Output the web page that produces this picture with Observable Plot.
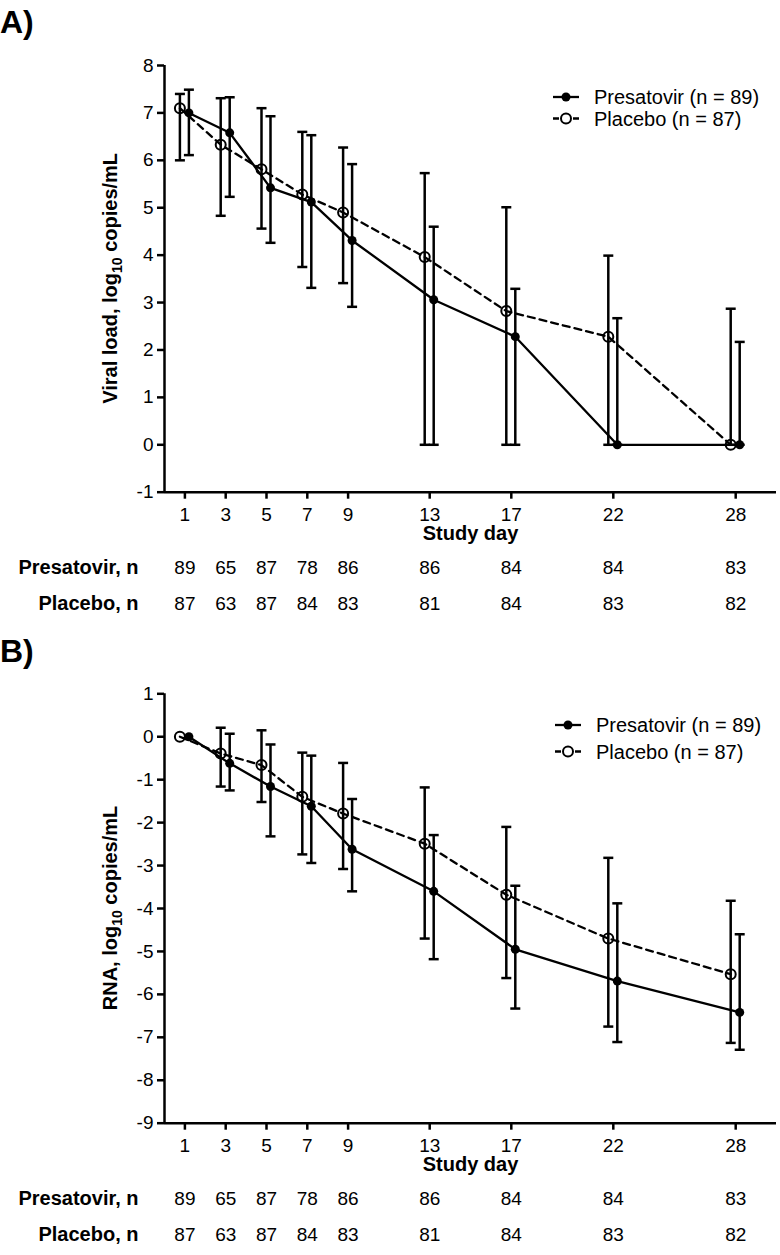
<!DOCTYPE html>
<html>
<head>
<meta charset="utf-8">
<script src="https://cdn.jsdelivr.net/npm/d3@7"></script>
<script src="https://cdn.jsdelivr.net/npm/@observablehq/plot@0.6"></script>
<style>
  html, body { margin: 0; padding: 0; background: white; }
  svg { display: block; }
</style>
</head>
<body>
<script>
// ---------- data ----------
const days = [1, 3, 5, 7, 9, 13, 17, 22, 28];
const nPresatovir = [89, 65, 87, 78, 86, 86, 84, 84, 83];
const nPlacebo = [87, 63, 87, 84, 83, 81, 84, 83, 82];

// Panel A: viral load, log10 copies/mL
const aPresMean = [7.00, 6.58, 5.42, 5.12, 4.31, 3.06, 2.28, 0, 0];
const aPresHi   = [7.49, 7.33, 6.93, 6.53, 5.92, 4.60, 3.29, 2.67, 2.17];
const aPresLo   = [6.11, 5.23, 4.26, 3.31, 2.91, 0, 0, 0, 0];
const aPlacMean = [7.10, 6.33, 5.81, 5.28, 4.90, 3.96, 2.82, 2.28, 0];
const aPlacHi   = [7.40, 7.31, 7.10, 6.60, 6.27, 5.73, 5.01, 3.99, 2.87];
const aPlacLo   = [6.00, 4.83, 4.56, 3.75, 3.41, 0, 0, 0, 0];
const aYTicks = [-1, 0, 1, 2, 3, 4, 5, 6, 7, 8];

// Panel B: RNA change, log10 copies/mL
const bPresMean = [0, -0.62, -1.16, -1.62, -2.62, -3.60, -4.95, -5.69, -6.42];
const bPresHi   = [null, 0.07, -0.18, -0.44, -1.45, -2.29, -3.47, -3.88, -4.60];
const bPresLo   = [null, -1.25, -2.32, -2.94, -3.60, -5.18, -6.33, -7.11, -7.29];
const bPlacMean = [0, -0.39, -0.66, -1.40, -1.79, -2.49, -3.68, -4.70, -5.53];
const bPlacHi   = [null, 0.21, 0.15, -0.37, -0.61, -1.18, -2.10, -2.82, -3.82];
const bPlacLo   = [null, -1.16, -1.52, -2.74, -3.08, -4.70, -5.62, -6.75, -7.13];
const bYTicks = [1, 0, -1, -2, -3, -4, -5, -6, -7, -8, -9];

const seriesNames = ["Presatovir (n = 89)", "Placebo (n = 87)"];
const rowLabels = ["Presatovir, n", "Placebo, n"];
const xLabel = "Study day";

const FONT = "'Liberation Sans', Arial, Helvetica, sans-serif";

// horizontal cap symbol for error bars
const capSymbol = {
  draw(context, size) {
    const w = Math.sqrt(size / Math.PI);
    context.moveTo(-w, 0);
    context.lineTo(w, 0);
  }
};

function rows(mean, lo, hi) {
  return days.map((d, i) => ({day: d, mean: mean[i], lo: lo[i], hi: hi[i]}));
}

function panel(cfg) {
  const pres = rows(cfg.presMean, cfg.presLo, cfg.presHi);
  const plac = rows(cfg.placMean, cfg.placLo, cfg.placHi);
  const presE = pres.filter(d => d.lo != null);
  const placE = plac.filter(d => d.lo != null);
  const dxPres = 4, dxPlac = -5;
  const tableP = days.map((d, i) => ({day: d, n: nPresatovir[i]}));
  const tableQ = days.map((d, i) => ({day: d, n: nPlacebo[i]}));

  const svg = Plot.plot({
    width: 780,
    height: cfg.height,
    marginLeft: 164,
    marginRight: 4,
    marginTop: cfg.marginTop,
    marginBottom: cfg.marginBottom,
    style: {fontFamily: FONT, background: "white", color: "black", overflow: "visible"},
    x: {domain: [0, 30]},
    y: {domain: cfg.yDomain},
    marks: [
      Plot.axisY({ticks: cfg.yTicks, tickSize: 7, tickPadding: 4, strokeWidth: 2.5,
        tickFormat: d => String(d), label: null, fontSize: 19}),
      Plot.axisX({ticks: days, tickSize: 7, tickPadding: 8, strokeWidth: 2.5,
        tickFormat: d => String(d), label: null, fontSize: 19}),
      Plot.ruleX([0], {strokeWidth: 2.5}),
      Plot.ruleY([cfg.yDomain[0]], {strokeWidth: 2.5}),
      // error bars
      Plot.ruleX(placE, {x: "day", y1: "lo", y2: "hi", dx: dxPlac, strokeWidth: 2.5}),
      Plot.ruleX(presE, {x: "day", y1: "lo", y2: "hi", dx: dxPres, strokeWidth: 2.5}),
      Plot.dot(placE, {x: "day", y: "lo", dx: dxPlac, symbol: capSymbol, r: 5, stroke: "black", strokeWidth: 2.5, fill: "none"}),
      Plot.dot(placE, {x: "day", y: "hi", dx: dxPlac, symbol: capSymbol, r: 5, stroke: "black", strokeWidth: 2.5, fill: "none"}),
      Plot.dot(presE, {x: "day", y: "lo", dx: dxPres, symbol: capSymbol, r: 5, stroke: "black", strokeWidth: 2.5, fill: "none"}),
      Plot.dot(presE, {x: "day", y: "hi", dx: dxPres, symbol: capSymbol, r: 5, stroke: "black", strokeWidth: 2.5, fill: "none"}),
      // lines
      Plot.line(plac, {x: "day", y: "mean", dx: dxPlac, stroke: "black", strokeWidth: 2.3, strokeDasharray: "7,5"}),
      Plot.line(pres, {x: "day", y: "mean", dx: dxPres, stroke: "black", strokeWidth: 2.3}),
      // markers
      Plot.dot(plac, {x: "day", y: "mean", dx: dxPlac, r: 5, stroke: "black", strokeWidth: 2, fill: "none"}),
      Plot.dot(pres, {x: "day", y: "mean", dx: dxPres, r: 4.5, fill: "black", stroke: "none"}),
      // x label and n table
      Plot.text([xLabel], {text: d => d, frameAnchor: "bottom", dy: 48, fontWeight: "bold", fontSize: 20}),
      Plot.text(tableP, {x: "day", text: "n", frameAnchor: "bottom", dy: 82, fontSize: 19}),
      Plot.text(tableQ, {x: "day", text: "n", frameAnchor: "bottom", dy: 118, fontSize: 19}),
      Plot.text([rowLabels[0]], {text: d => d, frameAnchor: "bottom-left", dx: -26, dy: 82, textAnchor: "end", fontWeight: "bold", fontSize: 20}),
      Plot.text([rowLabels[1]], {text: d => d, frameAnchor: "bottom-left", dx: -26, dy: 118, textAnchor: "end", fontWeight: "bold", fontSize: 20})
    ]
  });

  const s = d3.select(svg);
  // panel letter
  s.append("text").attr("x", 0).attr("y", cfg.letterY).attr("text-anchor", "start")
    .attr("font-size", 32).attr("font-weight", "bold").attr("fill", "black")
    .text(cfg.letter);

  // y-axis title with subscript
  const yr = svg.scale("y").range;
  const cy = (yr[0] + yr[1]) / 2;
  const t = s.append("text")
    .attr("transform", `translate(117,${cy}) rotate(-90)`)
    .attr("text-anchor", "middle").attr("font-size", 20).attr("font-weight", "bold").attr("fill", "black");
  t.append("tspan").text(cfg.yTitle[0]);
  t.append("tspan").attr("font-size", 14).attr("dy", 5).text("10");
  t.append("tspan").attr("dy", -5).text(cfg.yTitle[1]);

  // legend
  const L = cfg.legend;
  const g = s.append("g").attr("fill", "black").attr("text-anchor", "start");
  const mid = (L.x0 + L.x1) / 2;
  g.append("line").attr("x1", L.x0).attr("x2", L.x1).attr("y1", L.y1).attr("y2", L.y1)
    .attr("stroke", "black").attr("stroke-width", 2.3);
  g.append("circle").attr("cx", mid).attr("cy", L.y1).attr("r", 4.5).attr("fill", "black");
  g.append("text").attr("x", L.tx).attr("y", L.y1).attr("dy", "0.35em").attr("font-size", 20).text(seriesNames[0]);
  g.append("line").attr("x1", L.x0).attr("x2", L.x1).attr("y1", L.y2).attr("y2", L.y2)
    .attr("stroke", "black").attr("stroke-width", 2.3).attr("stroke-dasharray", "6,4");
  g.append("circle").attr("cx", mid).attr("cy", L.y2).attr("r", 5).attr("fill", "white")
    .attr("stroke", "black").attr("stroke-width", 2);
  g.append("text").attr("x", L.tx).attr("y", L.y2).attr("dy", "0.35em").attr("font-size", 20).text(seriesNames[1]);
  return svg;
}

const svgA = panel({
  height: 625, marginTop: 65, marginBottom: 133.3,
  yDomain: [-1, 8], yTicks: aYTicks,
  presMean: aPresMean, presLo: aPresLo, presHi: aPresHi,
  placMean: aPlacMean, placLo: aPlacLo, placHi: aPlacHi,
  letter: "A)", letterY: 33,
  yTitle: ["Viral load, log", " copies/mL"],
  legend: {x0: 553, x1: 579, tx: 594, y1: 97, y2: 118.5}
});
const svgB = panel({
  height: 630, marginTop: 68.3, marginBottom: 132.3,
  yDomain: [-9, 1], yTicks: bYTicks,
  presMean: bPresMean, presLo: bPresLo, presHi: bPresHi,
  placMean: bPlacMean, placLo: bPlacLo, placHi: bPlacHi,
  letter: "B)", letterY: 37,
  yTitle: ["RNA, log", " copies/mL"],
  legend: {x0: 555, x1: 581, tx: 596, y1: 100, y2: 126.5}
});
document.body.append(svgA, svgB);
</script>
</body>
</html>
